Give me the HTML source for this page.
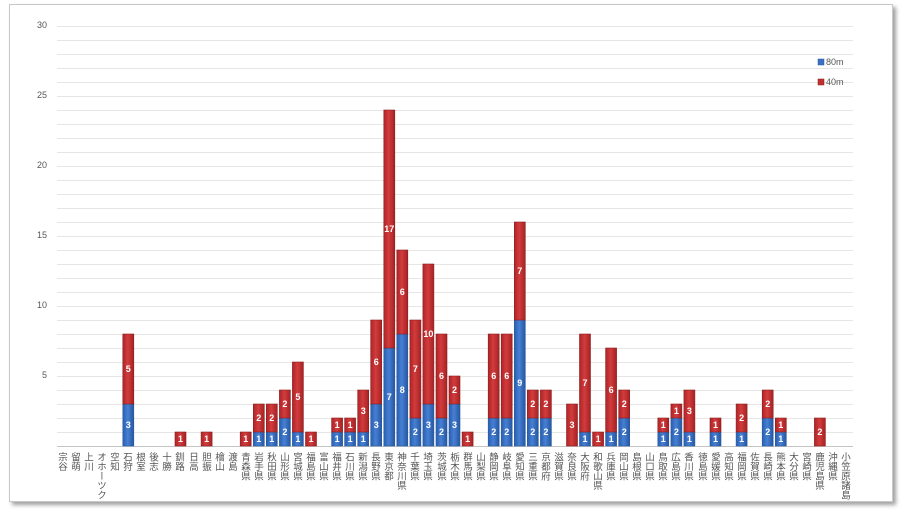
<!DOCTYPE html>
<html><head><meta charset="utf-8"><style>
body{margin:0;width:900px;height:512px;background:#fff;position:relative;overflow:hidden;font-family:"Liberation Sans","Noto Sans CJK JP",sans-serif}
.frame{position:absolute;left:9px;top:4px;width:882px;height:496px;border:1px solid #c8c8c8;box-shadow:3px 3px 4px #a0a0a0;background:#fff}
.l{position:absolute;top:452px;width:12px;height:60px;writing-mode:vertical-rl;font-size:9.5px;line-height:12px;color:#555;font-family:"Noto Sans CJK JP",sans-serif;white-space:nowrap}
.y{position:absolute;width:20px;text-align:right;font-size:9px;color:#555;left:27px}
svg{position:absolute;left:0;top:0}
.b{fill:url(#gb);stroke:#2a5aa0;stroke-width:.6}
.r{fill:url(#gr);stroke:#8e1f1f;stroke-width:.6}
.t{fill:#fff;font-size:9px;font-weight:bold;text-anchor:middle;font-family:"Liberation Sans",sans-serif}
</style></head><body>
<div class="frame"></div>
<svg width="900" height="512">
<defs>
<linearGradient id="gb" x1="0" x2="1" y1="0" y2="0"><stop offset="0" stop-color="#2a5eae"/><stop offset=".45" stop-color="#4680d4"/><stop offset="1" stop-color="#2656a0"/></linearGradient>
<linearGradient id="gr" x1="0" x2="1" y1="0" y2="0"><stop offset="0" stop-color="#ae2428"/><stop offset=".45" stop-color="#d23c3c"/><stop offset="1" stop-color="#a52224"/></linearGradient>
</defs>
<g stroke="#e6e6e6" stroke-width="1">
<line x1="57" x2="853" y1="26.5" y2="26.5"/><line x1="57" x2="853" y1="40.5" y2="40.5"/><line x1="57" x2="853" y1="54.5" y2="54.5"/><line x1="57" x2="853" y1="68.5" y2="68.5"/><line x1="57" x2="853" y1="82.5" y2="82.5"/><line x1="57" x2="853" y1="96.5" y2="96.5"/><line x1="57" x2="853" y1="110.5" y2="110.5"/><line x1="57" x2="853" y1="124.5" y2="124.5"/><line x1="57" x2="853" y1="138.5" y2="138.5"/><line x1="57" x2="853" y1="152.5" y2="152.5"/><line x1="57" x2="853" y1="166.5" y2="166.5"/><line x1="57" x2="853" y1="180.5" y2="180.5"/><line x1="57" x2="853" y1="194.5" y2="194.5"/><line x1="57" x2="853" y1="208.5" y2="208.5"/><line x1="57" x2="853" y1="222.5" y2="222.5"/><line x1="57" x2="853" y1="236.5" y2="236.5"/><line x1="57" x2="853" y1="250.5" y2="250.5"/><line x1="57" x2="853" y1="264.5" y2="264.5"/><line x1="57" x2="853" y1="278.5" y2="278.5"/><line x1="57" x2="853" y1="292.5" y2="292.5"/><line x1="57" x2="853" y1="306.5" y2="306.5"/><line x1="57" x2="853" y1="320.5" y2="320.5"/><line x1="57" x2="853" y1="334.5" y2="334.5"/><line x1="57" x2="853" y1="348.5" y2="348.5"/><line x1="57" x2="853" y1="362.5" y2="362.5"/><line x1="57" x2="853" y1="376.5" y2="376.5"/><line x1="57" x2="853" y1="390.5" y2="390.5"/><line x1="57" x2="853" y1="404.5" y2="404.5"/><line x1="57" x2="853" y1="418.5" y2="418.5"/><line x1="57" x2="853" y1="432.5" y2="432.5"/>
</g>
<line x1="57" x2="853" y1="446.5" y2="446.5" stroke="#c4c4c4"/>
<g>
<rect class="b" x="122.8" y="404" width="11" height="42"/><rect class="r" x="122.8" y="334" width="11" height="70"/><text class="t" x="128.3" y="428">3</text><text class="t" x="128.3" y="372">5</text>
<rect class="r" x="175" y="432" width="11" height="14"/><text class="t" x="180.5" y="442">1</text>
<rect class="r" x="201.1" y="432" width="11" height="14"/><text class="t" x="206.6" y="442">1</text>
<rect class="r" x="240.2" y="432" width="11" height="14"/><text class="t" x="245.7" y="442">1</text>
<rect class="b" x="253.3" y="432" width="11" height="14"/><rect class="r" x="253.3" y="404" width="11" height="28"/><text class="t" x="258.8" y="442">1</text><text class="t" x="258.8" y="421">2</text>
<rect class="b" x="266.3" y="432" width="11" height="14"/><rect class="r" x="266.3" y="404" width="11" height="28"/><text class="t" x="271.8" y="442">1</text><text class="t" x="271.8" y="421">2</text>
<rect class="b" x="279.4" y="418" width="11" height="28"/><rect class="r" x="279.4" y="390" width="11" height="28"/><text class="t" x="284.9" y="435">2</text><text class="t" x="284.9" y="407">2</text>
<rect class="b" x="292.4" y="432" width="11" height="14"/><rect class="r" x="292.4" y="362" width="11" height="70"/><text class="t" x="297.9" y="442">1</text><text class="t" x="297.9" y="400">5</text>
<rect class="r" x="305.5" y="432" width="11" height="14"/><text class="t" x="311" y="442">1</text>
<rect class="b" x="331.6" y="432" width="11" height="14"/><rect class="r" x="331.6" y="418" width="11" height="14"/><text class="t" x="337.1" y="442">1</text><text class="t" x="337.1" y="428">1</text>
<rect class="b" x="344.6" y="432" width="11" height="14"/><rect class="r" x="344.6" y="418" width="11" height="14"/><text class="t" x="350.1" y="442">1</text><text class="t" x="350.1" y="428">1</text>
<rect class="b" x="357.7" y="432" width="11" height="14"/><rect class="r" x="357.7" y="390" width="11" height="42"/><text class="t" x="363.2" y="442">1</text><text class="t" x="363.2" y="414">3</text>
<rect class="b" x="370.7" y="404" width="11" height="42"/><rect class="r" x="370.7" y="320" width="11" height="84"/><text class="t" x="376.2" y="428">3</text><text class="t" x="376.2" y="365">6</text>
<rect class="b" x="383.8" y="348" width="11" height="98"/><rect class="r" x="383.8" y="110" width="11" height="238"/><text class="t" x="389.3" y="400">7</text><text class="t" x="389.3" y="232">17</text>
<rect class="b" x="396.8" y="334" width="11" height="112"/><rect class="r" x="396.8" y="250" width="11" height="84"/><text class="t" x="402.3" y="393">8</text><text class="t" x="402.3" y="295">6</text>
<rect class="b" x="409.9" y="418" width="11" height="28"/><rect class="r" x="409.9" y="320" width="11" height="98"/><text class="t" x="415.4" y="435">2</text><text class="t" x="415.4" y="372">7</text>
<rect class="b" x="422.9" y="404" width="11" height="42"/><rect class="r" x="422.9" y="264" width="11" height="140"/><text class="t" x="428.4" y="428">3</text><text class="t" x="428.4" y="337">10</text>
<rect class="b" x="436" y="418" width="11" height="28"/><rect class="r" x="436" y="334" width="11" height="84"/><text class="t" x="441.5" y="435">2</text><text class="t" x="441.5" y="379">6</text>
<rect class="b" x="449" y="404" width="11" height="42"/><rect class="r" x="449" y="376" width="11" height="28"/><text class="t" x="454.5" y="428">3</text><text class="t" x="454.5" y="393">2</text>
<rect class="r" x="462.1" y="432" width="11" height="14"/><text class="t" x="467.6" y="442">1</text>
<rect class="b" x="488.2" y="418" width="11" height="28"/><rect class="r" x="488.2" y="334" width="11" height="84"/><text class="t" x="493.7" y="435">2</text><text class="t" x="493.7" y="379">6</text>
<rect class="b" x="501.2" y="418" width="11" height="28"/><rect class="r" x="501.2" y="334" width="11" height="84"/><text class="t" x="506.7" y="435">2</text><text class="t" x="506.7" y="379">6</text>
<rect class="b" x="514.3" y="320" width="11" height="126"/><rect class="r" x="514.3" y="222" width="11" height="98"/><text class="t" x="519.8" y="386">9</text><text class="t" x="519.8" y="274">7</text>
<rect class="b" x="527.3" y="418" width="11" height="28"/><rect class="r" x="527.3" y="390" width="11" height="28"/><text class="t" x="532.8" y="435">2</text><text class="t" x="532.8" y="407">2</text>
<rect class="b" x="540.4" y="418" width="11" height="28"/><rect class="r" x="540.4" y="390" width="11" height="28"/><text class="t" x="545.9" y="435">2</text><text class="t" x="545.9" y="407">2</text>
<rect class="r" x="566.5" y="404" width="11" height="42"/><text class="t" x="572" y="428">3</text>
<rect class="b" x="579.5" y="432" width="11" height="14"/><rect class="r" x="579.5" y="334" width="11" height="98"/><text class="t" x="585" y="442">1</text><text class="t" x="585" y="386">7</text>
<rect class="r" x="592.6" y="432" width="11" height="14"/><text class="t" x="598.1" y="442">1</text>
<rect class="b" x="605.6" y="432" width="11" height="14"/><rect class="r" x="605.6" y="348" width="11" height="84"/><text class="t" x="611.1" y="442">1</text><text class="t" x="611.1" y="393">6</text>
<rect class="b" x="618.7" y="418" width="11" height="28"/><rect class="r" x="618.7" y="390" width="11" height="28"/><text class="t" x="624.2" y="435">2</text><text class="t" x="624.2" y="407">2</text>
<rect class="b" x="657.8" y="432" width="11" height="14"/><rect class="r" x="657.8" y="418" width="11" height="14"/><text class="t" x="663.3" y="442">1</text><text class="t" x="663.3" y="428">1</text>
<rect class="b" x="670.9" y="418" width="11" height="28"/><rect class="r" x="670.9" y="404" width="11" height="14"/><text class="t" x="676.4" y="435">2</text><text class="t" x="676.4" y="414">1</text>
<rect class="b" x="683.9" y="432" width="11" height="14"/><rect class="r" x="683.9" y="390" width="11" height="42"/><text class="t" x="689.4" y="442">1</text><text class="t" x="689.4" y="414">3</text>
<rect class="b" x="710" y="432" width="11" height="14"/><rect class="r" x="710" y="418" width="11" height="14"/><text class="t" x="715.5" y="442">1</text><text class="t" x="715.5" y="428">1</text>
<rect class="b" x="736.1" y="432" width="11" height="14"/><rect class="r" x="736.1" y="404" width="11" height="28"/><text class="t" x="741.6" y="442">1</text><text class="t" x="741.6" y="421">2</text>
<rect class="b" x="762.2" y="418" width="11" height="28"/><rect class="r" x="762.2" y="390" width="11" height="28"/><text class="t" x="767.7" y="435">2</text><text class="t" x="767.7" y="407">2</text>
<rect class="b" x="775.3" y="432" width="11" height="14"/><rect class="r" x="775.3" y="418" width="11" height="14"/><text class="t" x="780.8" y="442">1</text><text class="t" x="780.8" y="428">1</text>
<rect class="r" x="814.4" y="418" width="11" height="28"/><text class="t" x="819.9" y="435">2</text>
</g>
<rect x="818" y="59" width="6" height="6" fill="#3a6fc4" stroke="#2a5aa0" stroke-width=".5"/>
<text x="826" y="65" font-size="9" fill="#555">80m</text>
<rect x="818" y="79" width="6" height="6" fill="#c0302e" stroke="#8e1f1f" stroke-width=".5"/>
<text x="826" y="85" font-size="9" fill="#555">40m</text>
</svg>
<div class="y" style="top:20px">30</div>
<div class="y" style="top:90px">25</div>
<div class="y" style="top:160px">20</div>
<div class="y" style="top:230px">15</div>
<div class="y" style="top:300px">10</div>
<div class="y" style="top:370px">5</div>
<div class="l" style="left:57px">宗谷</div>
<div class="l" style="left:70px">留萌</div>
<div class="l" style="left:83px">上川</div>
<div class="l" style="left:96px">オホーツク</div>
<div class="l" style="left:109px">空知</div>
<div class="l" style="left:122px">石狩</div>
<div class="l" style="left:135px">根室</div>
<div class="l" style="left:148px">後志</div>
<div class="l" style="left:161px">十勝</div>
<div class="l" style="left:174px">釧路</div>
<div class="l" style="left:188px">日高</div>
<div class="l" style="left:201px">胆振</div>
<div class="l" style="left:214px">檜山</div>
<div class="l" style="left:227px">渡島</div>
<div class="l" style="left:240px">青森県</div>
<div class="l" style="left:253px">岩手県</div>
<div class="l" style="left:266px">秋田県</div>
<div class="l" style="left:279px">山形県</div>
<div class="l" style="left:292px">宮城県</div>
<div class="l" style="left:305px">福島県</div>
<div class="l" style="left:318px">富山県</div>
<div class="l" style="left:331px">福井県</div>
<div class="l" style="left:344px">石川県</div>
<div class="l" style="left:357px">新潟県</div>
<div class="l" style="left:370px">長野県</div>
<div class="l" style="left:383px">東京都</div>
<div class="l" style="left:396px">神奈川県</div>
<div class="l" style="left:409px">千葉県</div>
<div class="l" style="left:422px">埼玉県</div>
<div class="l" style="left:436px">茨城県</div>
<div class="l" style="left:449px">栃木県</div>
<div class="l" style="left:462px">群馬県</div>
<div class="l" style="left:475px">山梨県</div>
<div class="l" style="left:488px">静岡県</div>
<div class="l" style="left:501px">岐阜県</div>
<div class="l" style="left:514px">愛知県</div>
<div class="l" style="left:527px">三重県</div>
<div class="l" style="left:540px">京都府</div>
<div class="l" style="left:553px">滋賀県</div>
<div class="l" style="left:566px">奈良県</div>
<div class="l" style="left:579px">大阪府</div>
<div class="l" style="left:592px">和歌山県</div>
<div class="l" style="left:605px">兵庫県</div>
<div class="l" style="left:618px">岡山県</div>
<div class="l" style="left:631px">島根県</div>
<div class="l" style="left:644px">山口県</div>
<div class="l" style="left:657px">鳥取県</div>
<div class="l" style="left:670px">広島県</div>
<div class="l" style="left:683px">香川県</div>
<div class="l" style="left:697px">徳島県</div>
<div class="l" style="left:710px">愛媛県</div>
<div class="l" style="left:723px">高知県</div>
<div class="l" style="left:736px">福岡県</div>
<div class="l" style="left:749px">佐賀県</div>
<div class="l" style="left:762px">長崎県</div>
<div class="l" style="left:775px">熊本県</div>
<div class="l" style="left:788px">大分県</div>
<div class="l" style="left:801px">宮崎県</div>
<div class="l" style="left:814px">鹿児島県</div>
<div class="l" style="left:827px">沖縄県</div>
<div class="l" style="left:840px">小笠原諸島</div>
</body></html>
